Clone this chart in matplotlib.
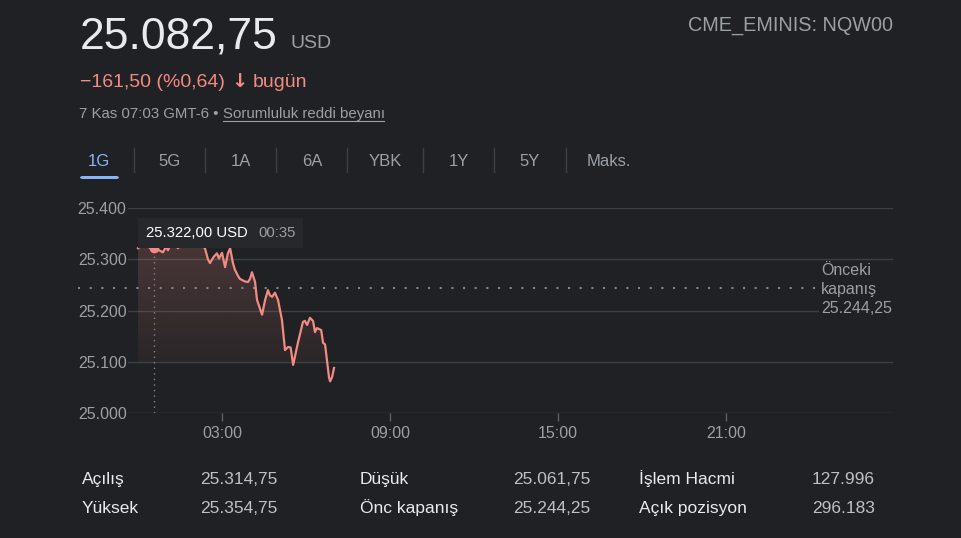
import numpy as np
import matplotlib
matplotlib.use('Agg')
import matplotlib.pyplot as plt
from matplotlib.patches import Polygon, Rectangle, FancyBboxPatch
from matplotlib.colors import to_rgb

# Intraday NQW00 prices (hours since 00:00, price in USD)
hours = [0.00, 0.10, 0.25, 0.43, 0.583, 0.75, 0.89, 1.00, 1.07, 1.20, 1.43, 1.60,
         1.86, 2.05, 2.21, 2.39, 2.50, 2.57, 2.70, 2.82, 2.89, 3.00, 3.11, 3.21,
         3.29, 3.39, 3.46, 3.57, 3.64, 3.82, 3.93, 4.00, 4.07, 4.18, 4.25, 4.43,
         4.54, 4.64, 4.71, 4.79, 4.89, 5.00, 5.14, 5.25, 5.36, 5.45, 5.54, 5.71,
         5.89, 5.96, 6.04, 6.14, 6.25, 6.32, 6.39, 6.54, 6.61, 6.68, 6.82, 6.86,
         6.93, 7.00]
prices = [25322, 25326, 25332, 25322, 25322, 25318, 25314, 25325, 25318, 25335, 25322, 25340,
          25354.75, 25338, 25330, 25322, 25300, 25293, 25305, 25312, 25302, 25313, 25285, 25312,
          25322, 25293, 25280, 25268, 25262, 25257, 25256, 25262, 25275, 25256, 25221, 25192,
          25221, 25240, 25230, 25227, 25235, 25221, 25182, 25123, 25129, 25128, 25094, 25137,
          25178, 25180, 25172, 25186, 25180, 25158, 25166, 25162, 25137, 25134, 25070, 25061.75,
          25070, 25088]
prev_close = 25244.25
hover_hour, hover_price = 0.583, 25322.0

y_ticks = [25000, 25100, 25200, 25300, 25400]
y_labels = ['25.000', '25.100', '25.200', '25.300', '25.400']
x_ticks = [3, 9, 15, 21]
x_labels = ['03:00', '09:00', '15:00', '21:00']

tabs = ['1G', '5G', '1A', '6A', 'YBK', '1Y', '5Y', 'Maks.']
stat_labels = [['Açılış', 'Yüksek'], ['Düşük', 'Önc kapanış'], ['İşlem Hacmi', 'Açık pozisyon']]
stat_values = [['25.314,75', '25.354,75'], ['25.061,75', '25.244,25'], ['127.996', '296.183']]

BG = '#202124'
WHITE = '#e8eaed'
GRAY = '#9aa0a6'
RED = '#f28b82'
GRID = '#3c4043'
BLUE = '#8ab4f8'

plt.rcParams['font.family'] = ['Liberation Sans', 'DejaVu Sans']

W, H = 962, 538
fig = plt.figure(figsize=(W / 100, H / 100), dpi=100, facecolor=BG)


def fx(x):
    return x / W


def fy(y):
    return 1 - y / H


# Header
fig.text(fx(80), fy(48), '25.082,75', fontsize=32, color=WHITE, va='baseline')
fig.text(fx(290), fy(48), 'USD', fontsize=14, color=GRAY, va='baseline')
fig.text(fx(893), fy(30.5), 'CME_EMINIS: NQW00', fontsize=14.3, color=GRAY,
         va='baseline', ha='right')
fig.text(fx(80), fy(87), '−161,50 (%0,64)', fontsize=14, color=RED, va='baseline')
fig.text(fx(239.5), fy(87), '↓', fontsize=14, color=RED, va='baseline', ha='center',
         fontweight='bold', family=['DejaVu Sans'])
fig.text(fx(253), fy(87), 'bugün', fontsize=14, color=RED, va='baseline')
fig.text(fx(79), fy(118), '7 Kas 07:03 GMT-6 •', fontsize=10.8, color=GRAY, va='baseline')
fig.text(fx(223), fy(118), 'Sorumluluk reddi beyanı', fontsize=10.8, color=GRAY, va='baseline')
fig.add_artist(plt.Line2D([fx(223), fx(384)], [fy(121), fy(121)], color=GRAY, lw=0.8))

# Tabs
tab_x = [99, 170, 241, 312, 385, 459, 530, 609]
for t, x in zip(tabs, tab_x):
    fig.text(fx(x), fy(166), t, fontsize=12, color=BLUE if t == '1G' else GRAY,
             ha='center', va='baseline')
for sx in [134, 205, 276, 347, 423, 494, 566]:
    fig.add_artist(plt.Line2D([fx(sx), fx(sx)], [fy(148), fy(172)], color=GRID, lw=1))
fig.add_artist(FancyBboxPatch((fx(80), fy(179)), fx(39), 3 / H,
                              boxstyle='round,pad=0,rounding_size=0.003',
                              facecolor=BLUE, edgecolor='none'))

# Chart
ax = fig.add_axes([fx(128), fy(413), fx(893) - fx(128), fy(208.3) - fy(413)])
ax.set_facecolor(BG)

verts = list(zip(hours, prices)) + [(hours[-1], 25000), (hours[0], 25000)]
poly = Polygon(verts, closed=True, facecolor='none', edgecolor='none')
ax.add_patch(poly)
rgba = np.zeros((256, 1, 4))
rgba[..., :3] = to_rgb(RED)
rgba[..., 3] = np.linspace(0.22, 0.05, 256)[:, None]
im = ax.imshow(rgba, extent=[hours[0], hours[-1], 25100, 25360], origin='upper',
               aspect='auto', zorder=1)
im.set_clip_path(poly)

ax.plot(hours, prices, color=RED, lw=1.6, zorder=3, solid_joinstyle='round')
ax.plot(hover_hour, hover_price, 'o', color=RED, ms=6, zorder=4)
ax.vlines(hover_hour, 25000, hover_price, colors='#80868b', lw=1,
          linestyles=(0, (1, 3)), zorder=2)
ax.plot([-2.14, 24.18], [prev_close, prev_close], color='#80868b', lw=1.5,
        linestyle=(0, (1, 4.6)), clip_on=False, zorder=2)

ax.set_xlim(-0.357, 26.96)
ax.set_ylim(25000, 25400)
ax.set_yticks(y_ticks)
ax.set_yticklabels(y_labels)
ax.set_xticks(x_ticks)
ax.set_xticklabels(x_labels)
ax.grid(axis='y', color=GRID, lw=1)
ax.set_axisbelow(True)
for s in ax.spines.values():
    s.set_visible(False)
ax.tick_params(axis='y', length=0, pad=1, labelsize=11.5, labelcolor=GRAY)
ax.tick_params(axis='x', length=6, width=1, color='#5f6368', pad=3,
               labelsize=11.5, labelcolor=GRAY)

# Prev close label (box hides the gridline behind it)
fig.add_artist(Rectangle((fx(819), fy(318)), fx(895) - fx(819), fy(262) - fy(318),
                         facecolor=BG, edgecolor='none', zorder=5))
for txt, yb in zip(['Önceki', 'kapanış', '25.244,25'], [275, 294, 313]):
    fig.text(fx(821), fy(yb), txt, fontsize=11.5, color=GRAY, va='baseline', zorder=6)

# Tooltip
fig.add_artist(Rectangle((fx(138), fy(248)), fx(303) - fx(138), fy(218) - fy(248),
                         facecolor='#27282b', edgecolor='none', zorder=5))
fig.text(fx(146), fy(237), '25.322,00 USD', fontsize=10.7, color='#ffffff',
         va='baseline', zorder=6)
fig.text(fx(258), fy(237), '00:35', fontsize=10.7, color=GRAY, va='baseline', zorder=6)

# Stats table
col_label_x = [82, 360, 639]
col_value_x = [200, 513, 812]
row_y = [484, 513]
for c in range(3):
    for r in range(2):
        fig.text(fx(col_label_x[c]), fy(row_y[r]), stat_labels[c][r], fontsize=12.5,
                 color=WHITE, va='baseline')
        fig.text(fx(col_value_x[c]), fy(row_y[r]), stat_values[c][r], fontsize=12.5,
                 color='#bdc1c6', va='baseline')

fig.savefig('out.png', dpi=100, facecolor=BG)
